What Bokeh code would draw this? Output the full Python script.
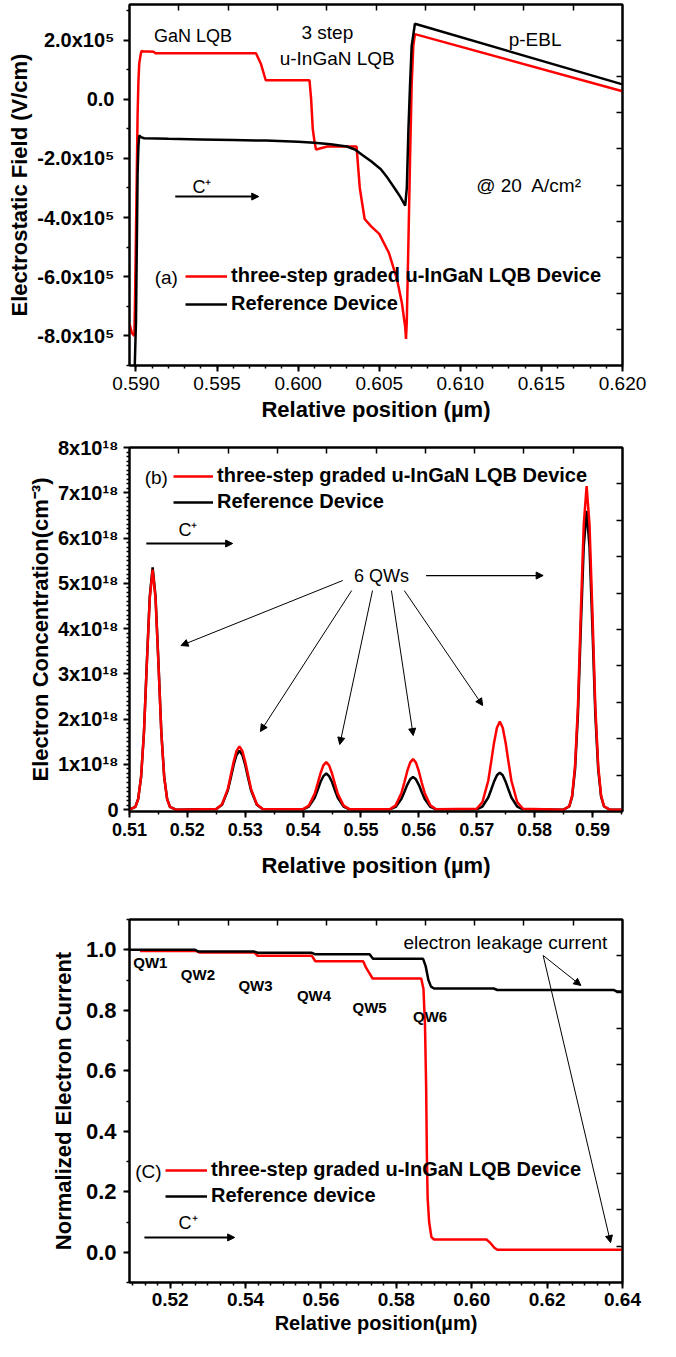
from bokeh.plotting import figure
from bokeh.models import (Range1d, LinearAxis, FixedTicker, SingleIntervalTicker,
                          PrintfTickFormatter, CustomJSTickFormatter, Label, Arrow,
                          NormalHead, Legend, LegendItem)
from bokeh.layouts import column
from bokeh.embed import file_html
from bokeh.resources import INLINE

FONT = "Liberation Sans"
RED = "#ff0000"
BLACK = "#000000"

# ---------------- panel (a): electrostatic field (V/cm) ----------------
a_x_lqb = [0.5896, 0.58975, 0.5899, 0.58995, 0.5900, 0.59005, 0.5901, 0.59015, 0.5902,
           0.5903, 0.59035, 0.5904, 0.5911, 0.5912, 0.5974, 0.5977, 0.5980, 0.6007,
           0.6008, 0.6009, 0.6010, 0.6011, 0.6018, 0.6036, 0.6038, 0.6041, 0.6045,
           0.6050, 0.6056, 0.6061, 0.6064, 0.6066, 0.60665, 0.6067, 0.6068, 0.6069,
           0.6070, 0.6071, 0.6072, 0.6200]
a_y_lqb = [-7.6e5, -7.9e5, -8.0e5, -6.5e5, -4.5e5, -2.5e5, -0.5e5, 0.6e5, 1.2e5,
           1.55e5, 1.63e5, 1.62e5, 1.60e5, 1.55e5, 1.55e5, 1.2e5, 0.64e5, 0.64e5,
           0.0, -1.0e5, -1.4e5, -1.7e5, -1.60e5, -1.60e5, -3.0e5, -4.05e5, -4.3e5,
           -4.55e5, -5.2e5, -6.1e5, -6.9e5, -7.7e5, -8.1e5, -7.5e5, -4.8e5, -2.0e5,
           0.5e5, 1.8e5, 2.2e5, 0.27e5]
a_x_ref = [0.5899, 0.5900, 0.59005, 0.5901, 0.59015, 0.5902, 0.5903, 0.5905, 0.5920,
           0.5940, 0.5960, 0.5980, 0.6000, 0.6010, 0.6020, 0.6030, 0.6035, 0.6040,
           0.6045, 0.6051, 0.6055, 0.6060, 0.6063, 0.6066, 0.6067, 0.6068, 0.6069,
           0.6070, 0.6072, 0.6200]
a_y_ref = [-9.5e5, -7.5e5, -5.0e5, -2.5e5, -1.6e5, -1.22e5, -1.28e5, -1.32e5, -1.34e5,
           -1.36e5, -1.38e5, -1.40e5, -1.44e5, -1.47e5, -1.52e5, -1.60e5, -1.70e5, -1.9e5,
           -2.1e5, -2.37e5, -2.65e5, -3.05e5, -3.3e5, -3.6e5, -3.0e5, -1.0e5, 0.5e5,
           1.8e5, 2.55e5, 0.5e5]
a_yticks = [-8e5, -6e5, -4e5, -2e5, 0.0, 2e5]
a_ylabels = ["-8.0x10⁵", "-6.0x10⁵", "-4.0x10⁵", "-2.0x10⁵", "0.0", "2.0x10⁵"]
a_yminor = [-9e5, -7e5, -5e5, -3e5, -1e5, 1e5, 3e5]

# ---------------- panel (b): electron concentration (x10^18 cm^-3) ----------------
b_x = [0.5100, 0.5110, 0.5115, 0.5120, 0.5125, 0.5130, 0.5135, 0.5140, 0.5145, 0.5150,
       0.5155, 0.5160, 0.5165, 0.5170, 0.5180,
       0.5250, 0.5260, 0.5270, 0.5275, 0.5280, 0.5285, 0.5290, 0.5295, 0.5300, 0.5305,
       0.5310, 0.5320, 0.5330,
       0.5400, 0.5410, 0.5420, 0.5425, 0.5430, 0.5435, 0.5440, 0.5445, 0.5450, 0.5455,
       0.5460, 0.5470, 0.5480,
       0.5550, 0.5560, 0.5570, 0.5575, 0.5580, 0.5585, 0.5590, 0.5595, 0.5600, 0.5605,
       0.5610, 0.5620, 0.5630,
       0.5700, 0.5710, 0.5720, 0.5725, 0.5730, 0.5735, 0.5740, 0.5745, 0.5750, 0.5755,
       0.5760, 0.5770, 0.5780,
       0.5850, 0.5860, 0.5865, 0.5870, 0.5875, 0.5880, 0.5885, 0.5890, 0.5895, 0.5900,
       0.5905, 0.5910, 0.5915, 0.5920, 0.5930, 0.5952]
b_y_lqb = [0.0, 0.06, 0.23, 0.72, 1.70, 3.23, 4.66, 5.30, 4.66, 3.23, 1.70, 0.72, 0.23, 0.06, 0.0,
           0.014, 0.12, 0.46, 0.76, 1.06, 1.30, 1.40, 1.30, 1.06, 0.76, 0.46, 0.12, 0.014,
           0.011, 0.089, 0.35, 0.57, 0.80, 0.98, 1.05, 0.98, 0.80, 0.57, 0.35, 0.089, 0.011,
           0.011, 0.095, 0.37, 0.60, 0.85, 1.04, 1.12, 1.04, 0.85, 0.60, 0.37, 0.095, 0.011,
           0.02, 0.17, 0.64, 1.05, 1.48, 1.81, 1.95, 1.81, 1.48, 1.05, 0.64, 0.17, 0.02,
           0.0, 0.08, 0.31, 0.97, 2.29, 4.36, 6.29, 7.15, 6.29, 4.36, 2.29, 0.97, 0.31, 0.08, 0.0, 0.0]
b_y_ref = [0.0, 0.06, 0.24, 0.72, 1.71, 3.26, 4.71, 5.35, 4.71, 3.26, 1.71, 0.72, 0.24, 0.06, 0.0,
           0.013, 0.11, 0.43, 0.70, 0.99, 1.21, 1.30, 1.21, 0.99, 0.70, 0.43, 0.11, 0.013,
           0.008, 0.068, 0.26, 0.43, 0.61, 0.74, 0.80, 0.74, 0.61, 0.43, 0.26, 0.068, 0.008,
           0.007, 0.061, 0.24, 0.39, 0.55, 0.67, 0.72, 0.67, 0.55, 0.39, 0.24, 0.061, 0.007,
           0.008, 0.07, 0.27, 0.44, 0.62, 0.76, 0.82, 0.76, 0.62, 0.44, 0.27, 0.07, 0.008,
           0.0, 0.07, 0.29, 0.89, 2.11, 4.03, 5.81, 6.60, 5.81, 4.03, 2.11, 0.89, 0.29, 0.07, 0.0, 0.0]
b_yticks = [0, 1, 2, 3, 4, 5, 6, 7, 8]
b_ylabels = ["0", "1x10¹⁸", "2x10¹⁸", "3x10¹⁸", "4x10¹⁸", "5x10¹⁸", "6x10¹⁸", "7x10¹⁸", "8x10¹⁸"]

# ---------------- panel (c): normalized electron current ----------------
c_x_lqb = [0.5120, 0.5268, 0.5277, 0.5423, 0.5432, 0.5576, 0.5585, 0.5712, 0.5720, 0.5737,
           0.5866, 0.5872, 0.5876, 0.5879, 0.5881, 0.5883, 0.5887, 0.5893, 0.5900, 0.6039,
           0.6050, 0.6060, 0.6068, 0.6400]
c_y_lqb = [0.996, 0.996, 0.991, 0.991, 0.980, 0.980, 0.962, 0.962, 0.940, 0.905,
           0.905, 0.870, 0.750, 0.550, 0.320, 0.180, 0.100, 0.050, 0.042, 0.042,
           0.030, 0.015, 0.008, 0.008]
c_x_ref = [0.5092, 0.5266, 0.5275, 0.5423, 0.5432, 0.5576, 0.5585, 0.5729, 0.5738, 0.5871,
           0.5878, 0.5885, 0.5892, 0.5900, 0.6058, 0.6068, 0.6376, 0.6385, 0.6400]
c_y_ref = [1.000, 1.000, 0.994, 0.994, 0.990, 0.990, 0.985, 0.985, 0.970, 0.970,
           0.945, 0.900, 0.878, 0.872, 0.872, 0.867, 0.867, 0.862, 0.862]

qw_labels = ["QW1", "QW2", "QW3", "QW4", "QW5", "QW6"]
legend_lqb = "three-step graded u-InGaN LQB Device"


def base_fig(w, h, bl, br, bt, bb, xr, yr):
    p = figure(width=w, height=h, x_range=Range1d(*xr), y_range=Range1d(*yr),
               output_backend="svg", toolbar_location=None,
               min_border_left=bl, min_border_right=br, min_border_top=bt, min_border_bottom=bb)
    p.xgrid.visible = False
    p.ygrid.visible = False
    p.outline_line_color = "black"
    p.outline_line_width = 2
    p.outline_line_alpha = 1.0
    p.background_fill_color = "white"
    p.border_fill_color = "white"
    return p


def style_axis(ax, label, label_size, tick_size, tick_bold, tick_standoff, label_standoff):
    ax.axis_label = label
    ax.axis_label_text_font = FONT
    ax.axis_label_text_font_style = "bold"
    ax.axis_label_text_font_size = label_size
    ax.axis_label_text_color = "black"
    ax.axis_label_standoff = label_standoff
    ax.major_label_text_font = FONT
    ax.major_label_text_font_size = tick_size
    ax.major_label_text_font_style = "bold" if tick_bold else "normal"
    ax.major_label_text_color = "black"
    ax.major_label_standoff = tick_standoff
    ax.axis_line_width = 2
    ax.axis_line_color = "black"
    ax.major_tick_line_width = 2
    ax.major_tick_line_color = "black"
    ax.major_tick_in = 0
    ax.major_tick_out = 6
    ax.minor_tick_line_width = 1.5
    ax.minor_tick_line_color = "black"
    ax.minor_tick_in = 0
    ax.minor_tick_out = 3


def add_mirror(p, side, ticks):
    ax = LinearAxis(ticker=FixedTicker(ticks=ticks, minor_ticks=[]),
                    formatter=CustomJSTickFormatter(code="return ' ';"))
    ax.major_label_standoff = 0
    ax.major_label_text_font_size = "1px"
    ax.major_tick_in = 6
    ax.major_tick_out = 0
    ax.major_tick_line_width = 1.5
    ax.major_tick_line_color = "black"
    ax.minor_tick_in = 0
    ax.minor_tick_out = 0
    ax.axis_line_width = 2
    ax.axis_line_color = "black"
    p.add_layout(ax, side)


def text(p, x, y, s, size="19px", style="normal", align="center"):
    p.add_layout(Label(x=x, y=y, text=s, text_font=FONT, text_font_size=size,
                       text_font_style=style, text_align=align, text_baseline="middle",
                       text_color="black"))


def arrow(p, x0, y0, x1, y1, lw=1.0, size=7):
    p.add_layout(Arrow(end=NormalHead(size=size, fill_color="black", line_color="black", line_width=1),
                       x_start=x0, y_start=y0, x_end=x1, y_end=y1,
                       line_color="black", line_width=lw))


def legend(p, r_red, r_black, lab_red, lab_black, loc, glyph_w, spacing):
    lg = Legend(items=[LegendItem(label=lab_red, renderers=[r_red]),
                       LegendItem(label=lab_black, renderers=[r_black])],
                location=loc, orientation="vertical")
    lg.label_text_font = FONT
    lg.label_text_font_size = "20px"
    lg.label_text_font_style = "bold"
    lg.label_text_color = "black"
    lg.glyph_width = glyph_w
    lg.glyph_height = 20
    lg.label_height = 20
    lg.label_standoff = 4
    lg.spacing = spacing
    lg.padding = 0
    lg.margin = 0
    lg.background_fill_alpha = 0
    lg.border_line_alpha = 0
    p.add_layout(lg, "center")


# ======================= panel (a) =======================
p1 = base_fig(660, 432, 129, 35, 4, 67, (0.5896, 0.6200), (-9.0e5, 3.2e5))
r1r = p1.line(a_x_lqb, a_y_lqb, line_color=RED, line_width=2.5)
r1b = p1.line(a_x_ref, a_y_ref, line_color=BLACK, line_width=2.5)
bx = p1.below[0]
bx.ticker = SingleIntervalTicker(interval=0.005, num_minor_ticks=5)
bx.formatter = PrintfTickFormatter(format="%.3f")
style_axis(bx, "Relative position (µm)", "22px", "19px", False, 5, 4)
ly = p1.left[0]
ly.ticker = FixedTicker(ticks=a_yticks, minor_ticks=a_yminor)
ly.major_label_overrides = dict(zip(a_yticks, a_ylabels))
style_axis(ly, "Electrostatic Field (V/cm)", "22px", "20px", True, 9, 2)
add_mirror(p1, "above", [0.59264, 0.59568, 0.59872, 0.60176, 0.6048, 0.60784, 0.61088, 0.61392, 0.61696])
add_mirror(p1, "right", [-7.78e5, -6.56e5, -5.34e5, -4.12e5, -2.9e5, -1.68e5, -0.46e5, 0.76e5, 1.98e5])

text(p1, 0.59352, 2.15e5, "GaN LQB", size="18px")
text(p1, 0.60180, 2.25e5, "3 step")
text(p1, 0.60241, 1.375e5, "u-InGaN LQB")
text(p1, 0.61461, 2.02e5, "p-EBL")
text(p1, 0.61424, -2.92e5, "@ 20\u00a0 A/cm²")
text(p1, 0.59407, -2.98e5, "C⁺", size="18px")
arrow(p1, 0.59242, -3.29e5, 0.59757, -3.29e5, lw=2, size=7)
text(p1, 0.59187, -6.03e5, "(a)", size="19px")
legend(p1, r1r, r1b, legend_lqb, "Reference Device", (56, 50), 42, 5)

# ======================= panel (b) =======================
p2 = base_fig(660, 460, 125, 38, 15, 81, (0.5100, 0.5952), (-0.04, 8.0))
r2b = p2.line(b_x, b_y_ref, line_color=BLACK, line_width=2.5)
r2r = p2.line(b_x, b_y_lqb, line_color=RED, line_width=2.5)
bx = p2.below[0]
bx.ticker = SingleIntervalTicker(interval=0.01, num_minor_ticks=2)
bx.formatter = PrintfTickFormatter(format="%.2f")
style_axis(bx, "Relative position (µm)", "22px", "18px", True, 5, 14)
ly = p2.left[0]
ly.ticker = FixedTicker(ticks=b_yticks, minor_ticks=[i / 10 for i in range(1, 80) if i % 10])
ly.major_label_overrides = dict(zip(b_yticks, b_ylabels))
style_axis(ly, "Electron Concentration(cm⁻³)", "22px", "20px", True, 5, 2)
add_mirror(p2, "above", [0.51852, 0.52704, 0.53556, 0.54408, 0.5526, 0.56112, 0.56964, 0.57816, 0.58668])
add_mirror(p2, "right", [0.764, 1.568, 2.372, 3.176, 3.98, 4.784, 5.588, 6.392, 7.196])

text(p2, 0.51463, 7.337, "(b)")
legend(p2, r2r, r2b, legend_lqb, "Reference Device", (44, 298), 40, 3)
text(p2, 0.52011, 6.167, "C⁺", size="18px")
arrow(p2, 0.51291, 5.879, 0.52783, 5.879, lw=2, size=7)
text(p2, 0.55354, 5.172, "6 QWs", size="18px")
arrow(p2, 0.56126, 5.172, 0.58149, 5.172, lw=1.2)
arrow(p2, 0.54686, 5.062, 0.51891, 3.626)
arrow(p2, 0.54840, 4.841, 0.53263, 1.727)
arrow(p2, 0.55200, 4.841, 0.54634, 1.440)
arrow(p2, 0.55526, 4.841, 0.55903, 1.638)
arrow(p2, 0.55749, 4.841, 0.57103, 2.301)

# ======================= panel (c) =======================
p3 = base_fig(660, 449, 125, 38, 27, 59, (0.5092, 0.6400), (-0.1, 1.1))
r3r = p3.line(c_x_lqb, c_y_lqb, line_color=RED, line_width=2.5)
r3b = p3.line(c_x_ref, c_y_ref, line_color=BLACK, line_width=2.5)
bx = p3.below[0]
bx.ticker = SingleIntervalTicker(interval=0.02, num_minor_ticks=6)
bx.formatter = PrintfTickFormatter(format="%.2f")
style_axis(bx, "Relative position(µm)", "20px", "19px", True, 4, 3)
ly = p3.left[0]
ly.ticker = SingleIntervalTicker(interval=0.2, num_minor_ticks=2)
ly.formatter = PrintfTickFormatter(format="%.1f")
style_axis(ly, "Normalized Electron Current", "22px", "22px", True, 7, 7)
add_mirror(p3, "above", [0.52228, 0.53536, 0.54844, 0.56152, 0.5746, 0.58768, 0.60076, 0.61384, 0.62692])
add_mirror(p3, "right", [0.02, 0.14, 0.26, 0.38, 0.50, 0.62, 0.74, 0.86, 0.98])

qw_x = [0.51473, 0.52736, 0.54262, 0.55815, 0.57289, 0.58894]
qw_y = [0.958, 0.918, 0.882, 0.849, 0.809, 0.779]
for qx, qy, qs in zip(qw_x, qw_y, qw_labels):
    text(p3, qx, qy, qs, size="15px", style="bold")
text(p3, 0.60894, 1.024, "electron leakage current", size="19px")
arrow(p3, 0.61895, 0.981, 0.62895, 0.882)
arrow(p3, 0.61895, 0.981, 0.63684, 0.032)
text(p3, 0.5142, 0.267, "(C)")
legend(p3, r3r, r3b, legend_lqb, "Reference device", (36, 75), 42, 3)
text(p3, 0.52473, 0.098, "C⁺", size="18px")
arrow(p3, 0.51315, 0.049, 0.53710, 0.049, lw=2, size=7)

layout = column(p1, p2, p3, spacing=0)
open("out.html", "w").write(file_html(layout, INLINE))
